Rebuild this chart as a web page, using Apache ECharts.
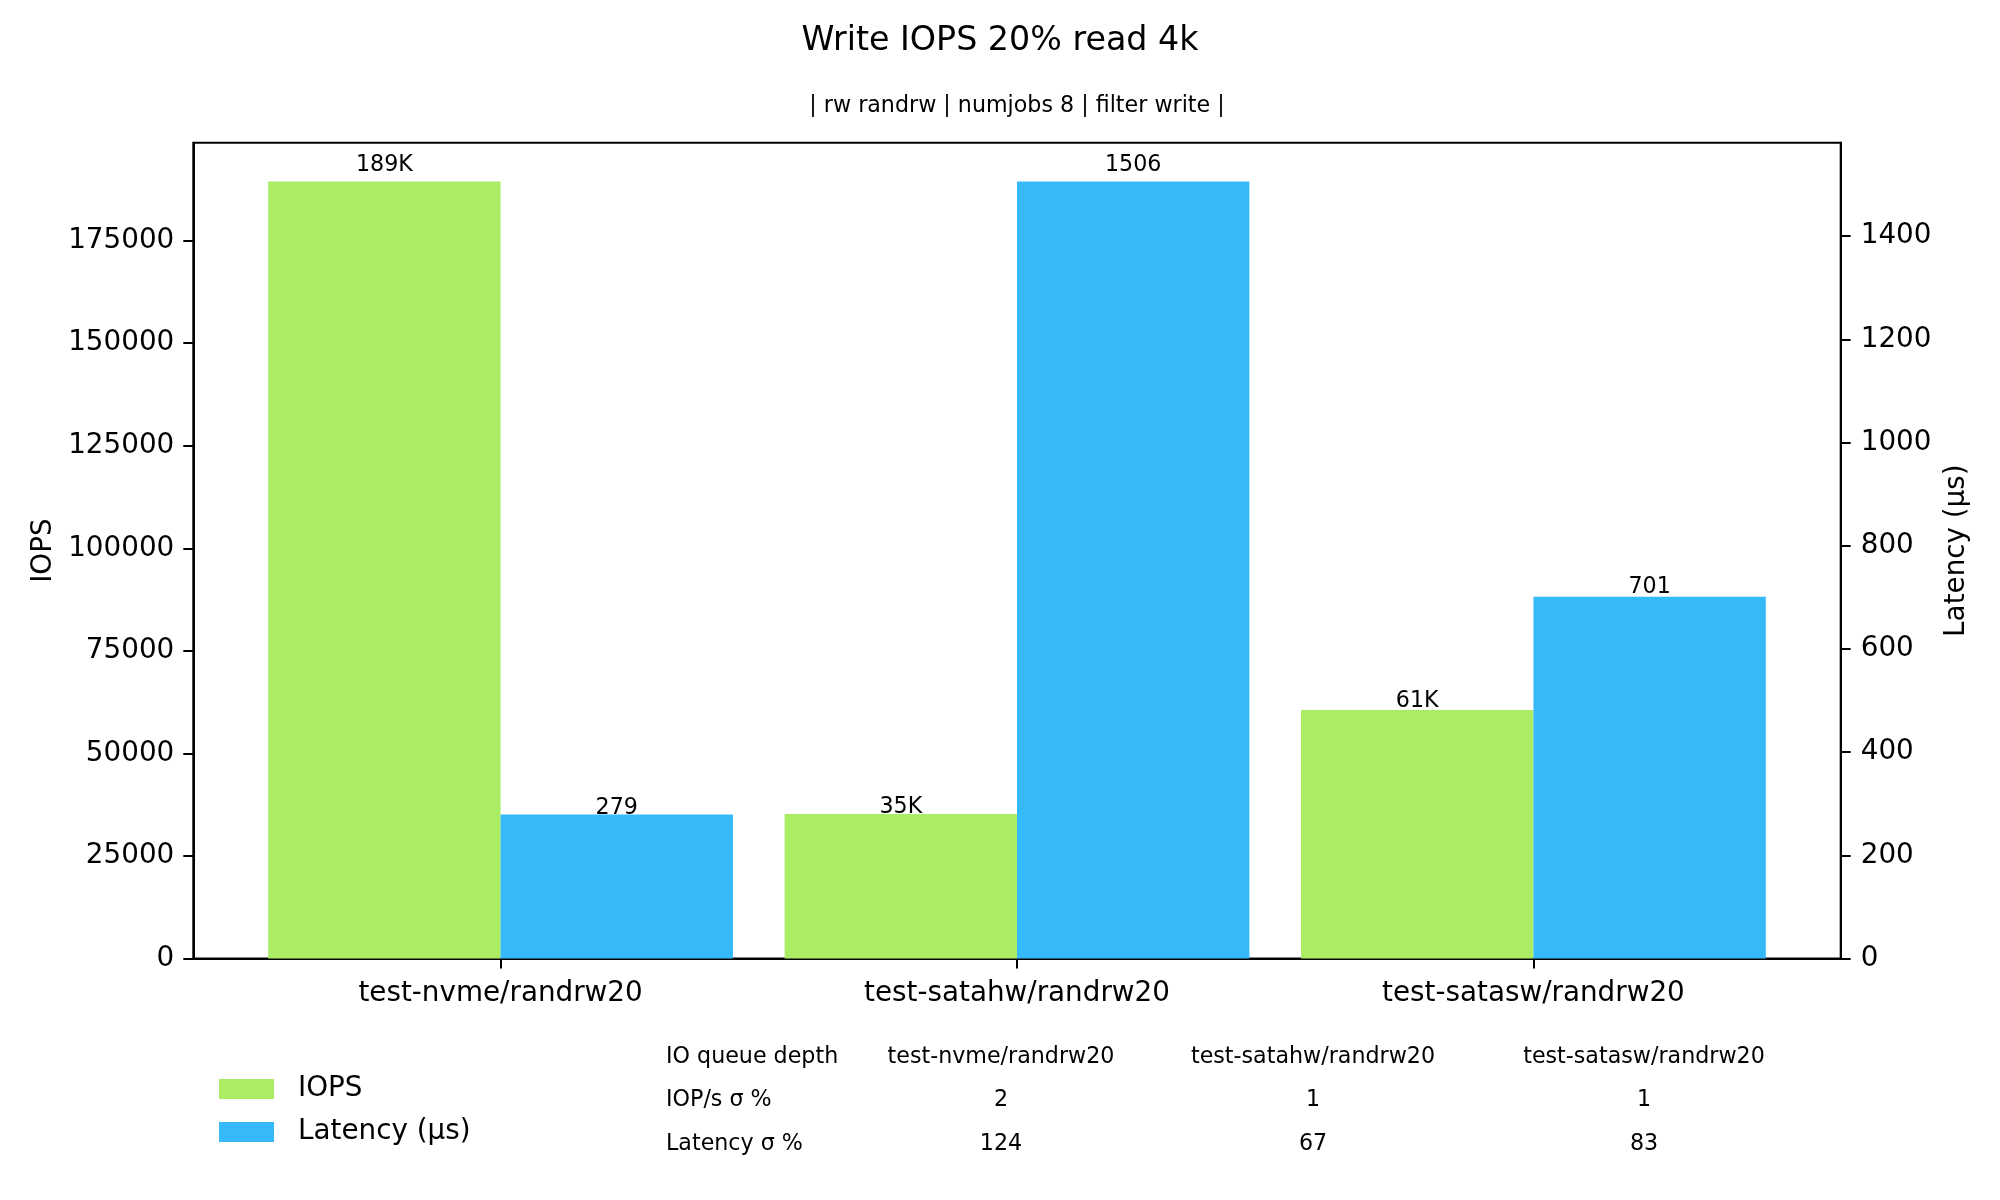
<!DOCTYPE html>
<html>
<head>
<meta charset="utf-8">
<script src="https://cdn.jsdelivr.net/npm/echarts@6/dist/echarts.min.js"></script>
<style>
html,body{margin:0;padding:0;background:#fff;}
#main{width:2000px;height:1200px;}
</style>
</head>
<body>
<div id="main"></div>
<script>
// ---- data ----
const categories = ['test-nvme/randrw20', 'test-satahw/randrw20', 'test-satasw/randrw20'];
const iopsValues = [189400, 35200, 60600];
const latencyValues = [279, 1506, 701];
const iopsTicks = [0, 25000, 50000, 75000, 100000, 125000, 150000, 175000];
const latencyTicks = [0, 200, 400, 600, 800, 1000, 1200, 1400];
const tableHeader = ['IO queue depth', 'test-nvme/randrw20', 'test-satahw/randrw20', 'test-satasw/randrw20'];
const iopsStdRow = ['IOP/s \u03c3 %', 2, 1, 1];
const latStdRow = ['Latency \u03c3 %', 124, 67, 83];
const titleText = 'Write IOPS 20% read 4k';
const subtitleText = '| rw randrw | numjobs 8 | filter write |';

// ---- styles ----
const FONT = 'DejaVu Sans';
const GREEN = '#abec65';
const BLUE = '#35b9f9';
const tickFs = 27.8, smallFs = 22.2;
const PLOT_TOP = 142.7, PLOT_BOTTOM = 958.5;
const PLOT_H = PLOT_BOTTOM - PLOT_TOP;
const HEADROOM = 1.05;

const chart = echarts.init(document.getElementById('main'), null, {renderer: 'canvas'});

// label offset grows slightly with bar height (as in the reference)
function labelDist(v, arr) {
  const maxV = Math.max.apply(null, arr) * HEADROOM;
  const h = v / maxV * PLOT_H;
  return -6.8 + 0.0161 * h;
}

// table as graphic text
const colX = [666, 1001, 1313, 1644];
const rowY = [1057, 1100, 1144];
const rows = [tableHeader, iopsStdRow, latStdRow];
const graphics = [];
rows.forEach((row, r) => {
  row.forEach((cell, c) => {
    graphics.push({
      type: 'text',
      x: colX[c], y: rowY[r],
      style: {
        text: String(cell),
        font: smallFs + 'px "' + FONT + '"',
        fill: '#000',
        textAlign: c === 0 ? 'left' : 'center',
        textVerticalAlign: 'middle'
      }
    });
  });
});

const labelBase = {show: true, position: 'top', fontFamily: FONT, fontSize: smallFs, color: '#000', lineHeight: 22};

const option = {
  animation: false,
  backgroundColor: '#fff',
  textStyle: {fontFamily: FONT},
  title: [
    {text: titleText, left: 1000, top: 24, textAlign: 'center', padding: 0,
     textStyle: {fontFamily: FONT, fontSize: 33.3, fontWeight: 'normal', color: '#000', lineHeight: 34}},
    {text: subtitleText, left: 1017, top: 94, textAlign: 'center', padding: 0,
     textStyle: {fontFamily: FONT, fontSize: smallFs, fontWeight: 'normal', color: '#000', lineHeight: 24}}
  ],
  legend: {
    orient: 'vertical', left: 219, top: 1075, padding: 0,
    itemWidth: 55, itemHeight: 20, itemGap: 15, icon: 'rect',
    textStyle: {fontFamily: FONT, fontSize: tickFs, color: '#000', padding: [0, 0, 0, 19]},
    data: ['IOPS', 'Latency (\u00b5s)']
  },
  grid: {left: 193.3, right: 159.3, top: PLOT_TOP, bottom: 1200 - PLOT_BOTTOM, show: true, borderColor: '#000', borderWidth: 2, containLabel: false},
  xAxis: {
    type: 'value', min: -0.595, max: 2.595,
    splitLine: {show: false},
    axisLine: {show: true, onZero: false, lineStyle: {color: '#000', width: 2}},
    axisTick: {show: true, length: 10, lineStyle: {color: '#000', width: 2}, customValues: categories.map((c, i) => i)},
    axisLabel: {show: true, margin: 21.5, fontFamily: FONT, fontSize: tickFs, color: '#000',
      customValues: categories.map((c, i) => i),
      formatter: v => categories[Math.round(v)]}
  },
  yAxis: [
    {
      type: 'value', min: 0, max: v => v.max * HEADROOM, position: 'left',
      name: 'IOPS', nameLocation: 'middle', nameRotate: 90, nameGap: 126,
      nameTextStyle: {fontFamily: FONT, fontSize: tickFs, color: '#000'},
      splitLine: {show: false},
      axisLine: {show: true, onZero: false, lineStyle: {color: '#000', width: 2}},
      axisTick: {show: true, length: 10, lineStyle: {color: '#000', width: 2}, customValues: iopsTicks},
      axisLabel: {margin: 19, padding: [3, 0, 0, 0], fontFamily: FONT, fontSize: tickFs, color: '#000', customValues: iopsTicks,
        formatter: v => String(v)}
    },
    {
      type: 'value', min: 0, max: v => v.max * HEADROOM, position: 'right',
      name: 'Latency (\u00b5s)', nameLocation: 'middle', nameRotate: 90, nameGap: 91,
      nameTextStyle: {fontFamily: FONT, fontSize: tickFs, color: '#000'},
      splitLine: {show: false},
      axisLine: {show: true, onZero: false, lineStyle: {color: '#000', width: 2}},
      axisTick: {show: true, length: 10, lineStyle: {color: '#000', width: 2}, customValues: latencyTicks},
      axisLabel: {margin: 20, padding: [4, 0, 0, 0], fontFamily: FONT, fontSize: tickFs, color: '#000', customValues: latencyTicks,
        formatter: v => String(v)}
    }
  ],
  series: [
    {
      name: 'IOPS', type: 'bar', yAxisIndex: 0, barWidth: '45%', barGap: '0%',
      itemStyle: {color: GREEN},
      label: Object.assign({}, labelBase, {formatter: p => Math.round(p.value[1] / 1000) + 'K'}),
      data: categories.map((c, i) => ({value: [i, iopsValues[i]], label: {distance: labelDist(iopsValues[i], iopsValues)}}))
    },
    {
      name: 'Latency (\u00b5s)', type: 'bar', yAxisIndex: 1, barWidth: '45%', barGap: '0%',
      itemStyle: {color: BLUE},
      label: Object.assign({}, labelBase, {formatter: p => String(p.value[1])}),
      data: categories.map((c, i) => ({value: [i, latencyValues[i]], label: {distance: labelDist(latencyValues[i], latencyValues)}}))
    }
  ],
  graphic: graphics
};
chart.setOption(option);
</script>
</body>
</html>
